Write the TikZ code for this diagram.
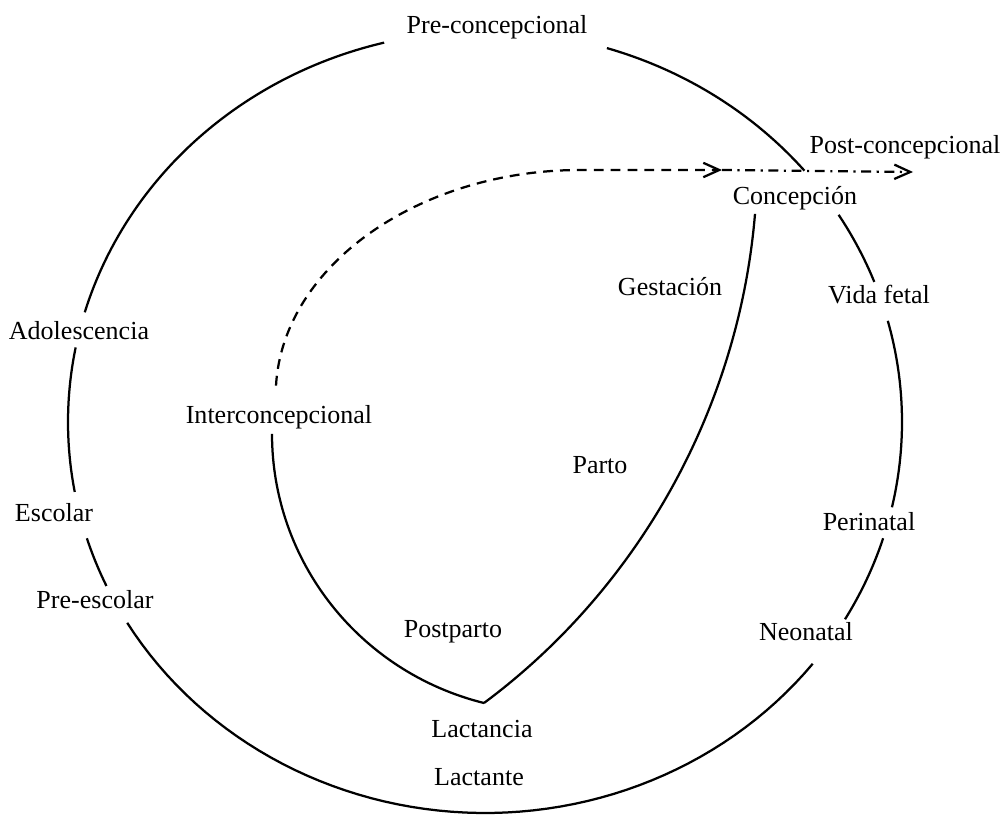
\documentclass[tikz,border=0pt]{standalone}
\usepackage{fontspec}
\setmainfont{Liberation Serif}
\usepackage{tikz}
\usetikzlibrary{
  calc,
  arrows.meta
}
\tikzset{
  lbl/.style={anchor=base,inner sep=3pt,font=\fontsize{18.5}{22}\selectfont},
  dashline/.style={dash pattern=on 7pt off 5pt},
  postline/.style={dash pattern=on 7pt off 4pt on 1.5pt off 4pt}
}

\begin{document}
\begin{tikzpicture}[x=0.025cm,y=-0.025cm,samples=60,line width=1.6pt,
    >={Straight Barb[length=4mm,width=3.6mm]}]
  \useasboundingbox (0,0) rectangle (1005,816);
  % ラベル
  \node[lbl] (preconc) at (497,33) {Pre-concepcional};
  \node[lbl] (postconc) at (905,153) {Post-concepcional};
  \node[lbl] (concep) at (795,204) {Concepción};
  \node[lbl] (gest) at (670,295) {Gestación};
  \node[lbl] (fetal) at (879,303) {Vida fetal};
  \node[lbl] (adol) at (79,339) {Adolescencia};
  \node[lbl] (inter) at (279,423) {Interconcepcional};
  \node[lbl] (parto) at (600,473) {Parto};
  \node[lbl] (escolar) at (54,521) {Escolar};
  \node[lbl] (perinat) at (869,530) {Perinatal};
  \node[lbl] (preesc) at (95,608) {Pre-escolar};
  \node[lbl] (postp) at (453,637) {Postparto};
  \node[lbl] (neonat) at (806,640) {Neonatal};
  \node[lbl] (lactcia) at (482,737) {Lactancia};
  \node[lbl] (lactte) at (479,785) {Lactante};
  % 外側の円
  \draw plot[domain=196.3:256] ({485+417*cos(\x)},{422+391*sin(\x)}); %上左
  \draw plot[domain=287:320] ({485+417*cos(\x)},{422+391*sin(\x)}); %上右
  \draw plot[domain=328:339] ({485+417*cos(\x)},{422+391*sin(\x)});
  \draw plot[domain=345:372.6] ({485+417*cos(\x)},{422+391*sin(\x)});
  \draw plot[domain=17.3:30.3] ({485+417*cos(\x)},{422+391*sin(\x)});
  \draw plot[domain=38.2:149.1] ({485+417*cos(\x)},{422+391*sin(\x)}); %下
  \draw plot[domain=155.2:162.7] ({485+417*cos(\x)},{422+391*sin(\x)});
  \draw plot[domain=169.7:191] ({485+417*cos(\x)},{422+391*sin(\x)});
  % 内側の曲線
  \coordinate (tip) at (484,703);
  \coordinate (arrowA) at (722,170);
  \coordinate (arrowB) at (913,172);
  \draw ($(concep.south)+(-40,-1)$) .. controls (739,407) and (640,587) .. (tip);
  \draw (tip) .. controls (359,672) and (272,561) .. ($(inter.south)+(-7,0)$);
  \draw[dashline,->] ($(inter.north)+(-3,-14)$) .. controls (283,265) and (420,170) .. (580,170) -- (arrowA);
  \draw[postline,->] (arrowA) -- (arrowB);
\end{tikzpicture}
\end{document}
